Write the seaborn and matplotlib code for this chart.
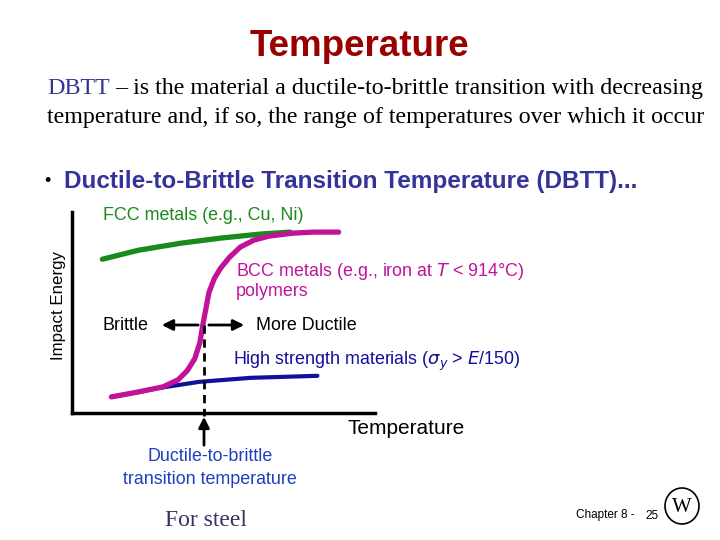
import pandas as pd
import seaborn as sns
import matplotlib.pyplot as plt
from matplotlib.patches import Ellipse, FancyArrowPatch

# curves (temperature 0-100, impact energy 0-100)
fcc_temp = [10, 22, 36, 49, 62, 72]
fcc_energy = [76.5, 81, 84.5, 87, 89, 90]

bcc_temp = [13, 22, 30, 35, 38, 40.5, 42.2, 43.2, 44.2, 45.2, 47, 49, 52, 55.5, 60, 65, 73, 80, 88]
bcc_energy = [8, 10.5, 13, 16.5, 21, 27, 35, 44, 52, 60, 67, 72, 77.5, 82.5, 86, 88, 89.5, 90, 90]

hs_temp = [13, 29, 42, 59, 81]
hs_energy = [8, 12.5, 15.5, 17.5, 18.5]

dbtt_temp = 43.5
dbtt_energy = 44

GREEN = "#1a8a1a"
MAGENTA = "#c0139a"
NAVY = "#10109a"


def fx(px):
    return px / 720


def fy(py):
    return 1 - py / 540


sns.set_style("white")
fig = plt.figure(figsize=(7.2, 5.4), dpi=100)
ax = fig.add_axes([fx(72), fy(413), fx(375) - fx(72), fy(212) - fy(413)])

df = pd.concat([
    pd.DataFrame({"temp": fcc_temp, "energy": fcc_energy, "kind": "FCC"}),
    pd.DataFrame({"temp": hs_temp, "energy": hs_energy, "kind": "HS"}),
    pd.DataFrame({"temp": bcc_temp, "energy": bcc_energy, "kind": "BCC"}),
])
sns.lineplot(data=df, x="temp", y="energy", hue="kind", sort=False,
             palette={"FCC": GREEN, "HS": NAVY, "BCC": MAGENTA},
             linewidth=3.8, legend=False, ax=ax, estimator=None)
ax.lines[1].set_linewidth(3.0)

ax.plot([dbtt_temp, dbtt_temp], [dbtt_energy, -1.5], color="black",
        linestyle=(0, (3, 2)), linewidth=2, clip_on=False)

ax.set_xlim(0, 100)
ax.set_ylim(0, 100)
ax.set_xticks([])
ax.set_yticks([])
ax.set_xlabel("")
ax.set_ylabel("")
for s in ["top", "right"]:
    ax.spines[s].set_visible(False)
for s in ["left", "bottom"]:
    ax.spines[s].set_linewidth(2.5)
    ax.spines[s].set_color("black")

# slide text
fig.text(fx(359), fy(46), "Temperature", ha="center", va="center",
         fontsize=26.5, fontweight="bold", color="#990000", family="Liberation Sans")
dbtt = fig.text(fx(47), fy(89), "DBTT", ha="left", va="center", fontsize=17.3,
                color="#333399", family="Liberation Serif")
fig.canvas.draw()
x_end = dbtt.get_window_extent().x1
fig.text((x_end + 5) / fig.bbox.width, fy(89),
         "– is the material a ductile-to-brittle transition with decreasing",
         ha="left", va="center", fontsize=17.3, color="black", family="Liberation Serif")
fig.text(fx(47), fy(117), "temperature and, if so, the range of temperatures over which it occur",
         ha="left", va="center", fontsize=17.3, color="black", family="Liberation Serif")
fig.text(fx(44), fy(181), "•", ha="left", va="center", fontsize=13, color="black",
         family="Liberation Sans")
fig.text(fx(64), fy(181), "Ductile-to-Brittle Transition Temperature (DBTT)...",
         ha="left", va="center", fontsize=17.5, fontweight="bold", color="#333399",
         family="Liberation Sans")

fs = 12.9
fig.text(fx(103), fy(215), "FCC metals (e.g., Cu, Ni)", ha="left", va="center",
         fontsize=fs, color=GREEN, family="Liberation Sans")
fig.text(fx(236), fy(272), "BCC metals (e.g., iron at $T$ < 914°C)", ha="left", va="center",
         fontsize=fs, color=MAGENTA, family="Liberation Sans")
fig.text(fx(236), fy(292), "polymers", ha="left", va="center",
         fontsize=fs, color=MAGENTA, family="Liberation Sans")
fig.text(fx(103), fy(325), "Brittle", ha="left", va="center",
         fontsize=fs, color="black", family="Liberation Sans")
fig.text(fx(256), fy(325), "More Ductile", ha="left", va="center",
         fontsize=fs, color="black", family="Liberation Sans")
fig.text(fx(233), fy(361), r"High strength materials ($\sigma_y$ > $E$/150)", ha="left",
         va="center", fontsize=fs, color=NAVY, family="Liberation Sans")
fig.text(fx(59), fy(305), "Impact Energy", ha="center", va="center", rotation=90,
         fontsize=12.2, color="black", family="Liberation Sans")
fig.text(fx(348), fy(428), "Temperature", ha="left", va="center",
         fontsize=15, color="black", family="Liberation Sans")
fig.text(fx(210), fy(468), "Ductile-to-brittle\ntransition temperature", ha="center",
         va="center", fontsize=fs, color="#1f3fbf", family="Liberation Sans",
         linespacing=1.4)
fig.text(fx(206), fy(521), "For steel", ha="center", va="center",
         fontsize=17, color="#333366", family="Liberation Serif")
fig.text(fx(576), fy(515), "Chapter 8 -", ha="left", va="center",
         fontsize=8.5, color="black", family="Liberation Sans")
fig.text(fx(645), fy(516), "25", ha="left", va="center",
         fontsize=8.5, color="black", family="Liberation Sans")

# arrows
arrow_kw = dict(arrowstyle="-|>", color="black", lw=2, mutation_scale=16)
fig.add_artist(FancyArrowPatch((fx(201), fy(325)), (fx(159), fy(325)),
                               transform=fig.transFigure, **arrow_kw))
fig.add_artist(FancyArrowPatch((fx(206), fy(325)), (fx(247), fy(325)),
                               transform=fig.transFigure, **arrow_kw))
fig.add_artist(FancyArrowPatch((fx(204), fy(448)), (fx(204), fy(414)),
                               transform=fig.transFigure, **arrow_kw))

# logo
fig.add_artist(Ellipse((fx(682), fy(506)), fx(34), 36 / 540, transform=fig.transFigure,
                       fill=False, edgecolor="black", lw=1.2))
fig.text(fx(682), fy(507), "W", ha="center", va="center", fontsize=15,
         family="Liberation Serif", color="black")

fig.savefig("out.png", dpi=100)
